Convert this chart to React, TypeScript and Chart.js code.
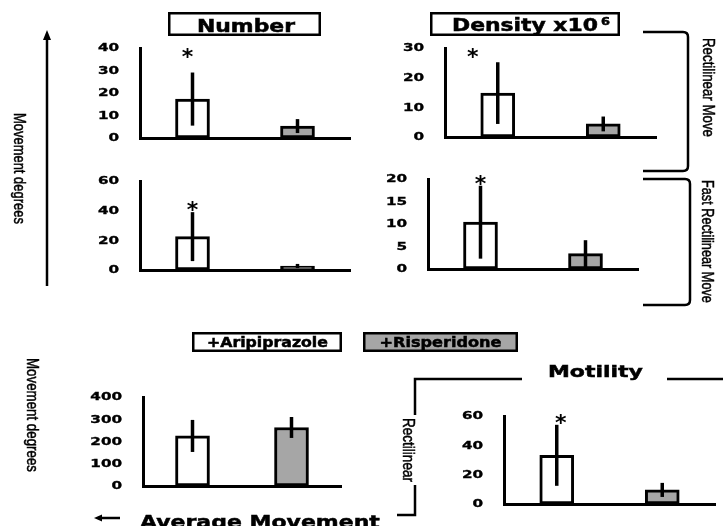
import React, { useEffect, useRef } from 'react';
import { Chart, registerables } from 'chart.js';

Chart.register(...registerables);

// ---------- DATA ----------
const categories = ['+Aripiprazole', '+Risperidone'];

const numberMeans = [17.3, 5.3];
const numberErrors = [11.8, 3.1];
const numberStars: (number | null)[] = [38.2, null];
const numberTicks = [0, 10, 20, 30, 40];

const densityMeans = [14.8, 4.4];
const densityErrors = [10.4, 2.5];
const densityStars: (number | null)[] = [28.5, null];
const densityTicks = [0, 10, 20, 30];

const fastNumberMeans = [22.5, 2.7];
const fastNumberErrors = [16.5, 1.4];
const fastNumberStars: (number | null)[] = [43.8, null];
const fastNumberTicks = [0, 20, 40, 60];

const fastDensityMeans = [10.4, 3.4];
const fastDensityErrors = [8.1, 3.0];
const fastDensityStars: (number | null)[] = [19.8, null];
const fastDensityTicks = [0, 5, 10, 15, 20];

const averageMeans = [225, 263];
const averageErrors = [72, 47];
const averageStars: (number | null)[] = [null, null];
const averageTicks = [0, 100, 200, 300, 400];

const motilityMeans = [33.2, 9.6];
const motilityErrors = [20.8, 4.8];
const motilityStars: (number | null)[] = [58.6, null];
const motilityTicks = [0, 20, 40, 60];

const barColors = ['#ffffff', '#a6a6a6'];

// ---------- PANEL ----------
type PanelProps = {
  means: number[];
  errors: number[];
  stars: (number | null)[];
  ticks: number[];
  axisLeft: number;
  axisRight: number;
  axisTop: number;
  axisBottom: number;
  starDx: number;
};

const YW = 60;
const PT = 14;
const PB = 14;
const PR = 6;

function BarPanel(p: PanelProps) {
  const ref = useRef<HTMLCanvasElement>(null);
  const width = YW + (p.axisRight - p.axisLeft) + PR;
  const height = PT + (p.axisBottom - p.axisTop) + PB;

  useEffect(() => {
    const overlay = {
      id: 'overlay',
      afterDatasetsDraw(chart: any) {
        const ctx = chart.ctx;
        const meta = chart.getDatasetMeta(0);
        const ys = chart.scales.y;
        ctx.save();
        ctx.strokeStyle = '#000';
        ctx.lineWidth = 3.5;
        ctx.lineCap = 'butt';
        meta.data.forEach((bar: any, i: number) => {
          const top = ys.getPixelForValue(p.means[i] + p.errors[i]);
          const bot = ys.getPixelForValue(Math.max(0, p.means[i] - p.errors[i]));
          ctx.beginPath();
          ctx.moveTo(bar.x, top);
          ctx.lineTo(bar.x, bot);
          ctx.stroke();
          const s = p.stars[i];
          if (s !== null && s !== undefined) {
            const sy = ys.getPixelForValue(s);
            ctx.fillStyle = '#000';
            ctx.font = 'bold 22px "DejaVu Sans"';
            ctx.textAlign = 'center';
            ctx.textBaseline = 'alphabetic';
            ctx.fillText('*', bar.x + p.starDx, sy + 11.5);
          }
        });
        ctx.restore();
      },
      afterDraw(chart: any) {
        const ctx = chart.ctx;
        const ys = chart.scales.y;
        ctx.save();
        ctx.fillStyle = '#000';
        ctx.strokeStyle = '#000';
        ctx.lineWidth = 0.35;
        ctx.font = 'bold 11px "DejaVu Sans"';
        ctx.textAlign = 'right';
        ctx.textBaseline = 'middle';
        ys.ticks.forEach((t: any) => {
          const y = ys.getPixelForValue(t.value);
          ctx.save();
          ctx.translate(chart.chartArea.left - 21, y + 0.5);
          ctx.scale(1.38, 1);
          ctx.fillText(String(t.value), 0, 0);
          ctx.strokeText(String(t.value), 0, 0);
          ctx.restore();
        });
        ctx.restore();
      },
    };

    const chart = new Chart(ref.current as HTMLCanvasElement, {
      type: 'bar',
      data: {
        labels: categories,
        datasets: [
          {
            data: p.means,
            backgroundColor: barColors,
            borderColor: '#000',
            borderWidth: 3,
            borderSkipped: false,
            barThickness: 34,
          },
        ],
      },
      options: {
        responsive: false,
        maintainAspectRatio: false,
        animation: false,
        layout: { padding: { top: PT, bottom: PB, left: 0, right: PR } },
        plugins: { legend: { display: false }, tooltip: { enabled: false } },
        scales: {
          x: {
            grid: { display: false, drawTicks: false },
            ticks: { display: false },
            border: { display: true, color: '#000', width: 3 },
            afterFit: (s: any) => {
              s.height = 0;
            },
          },
          y: {
            min: p.ticks[0],
            max: p.ticks[p.ticks.length - 1],
            ticks: { display: false, stepSize: p.ticks[1] - p.ticks[0] },
            grid: { display: false, drawTicks: false },
            border: { display: true, color: '#000', width: 3 },
            afterFit: (s: any) => {
              s.width = YW;
            },
          },
        },
      } as any,
      plugins: [overlay],
    });
    return () => chart.destroy();
  }, []);

  return (
    <canvas
      ref={ref}
      width={width}
      height={height}
      style={{ position: 'absolute', left: p.axisLeft - YW, top: p.axisTop - PT, width, height }}
    />
  );
}

// ---------- ANNOTATIONS ----------
const wide = '"DejaVu Sans"';
const narrow = '"Liberation Sans"';

const measureCtx = document.createElement('canvas').getContext('2d') as CanvasRenderingContext2D;
function textWidth(text: string, font: string): number {
  measureCtx.font = font;
  return measureCtx.measureText(text).width || 1;
}

function WText(props: { x: number; y: number; size: number; len: number; text: string; anchor?: string }) {
  const s = props.len / textWidth(props.text, `bold ${props.size}px ${wide}`);
  return (
    <text
      transform={`translate(${props.x},${props.y}) scale(${s},1)`}
      x={0}
      y={0}
      fontFamily={wide}
      fontWeight="bold"
      fontSize={props.size}
      textAnchor={props.anchor || 'start'}
      fill="#000"
      stroke="#000"
      strokeWidth={0.5}
    >
      {props.text}
    </text>
  );
}

// rotated 90deg clockwise: reads top-to-bottom, letter tops facing right
function VText(props: { baseX: number; y0: number; size: number; len: number; text: string }) {
  const s = props.len / textWidth(props.text, `${props.size}px ${narrow}`);
  return (
    <text
      transform={`translate(${props.baseX},${props.y0}) rotate(90) scale(${s},1)`}
      x={0}
      y={0}
      fontFamily={narrow}
      fontSize={props.size}
      fill="#000"
      stroke="#000"
      strokeWidth={0.5}
    >
      {props.text}
    </text>
  );
}

export default function App() {
  return (
    <div
      style={{
        position: 'absolute',
        left: 0,
        top: 0,
        width: 723,
        height: 526,
        overflow: 'hidden',
        background: '#fff',
      }}
    >
      <BarPanel means={numberMeans} errors={numberErrors} stars={numberStars} ticks={numberTicks}
        axisLeft={140} axisRight={350} axisTop={48} axisBottom={138} starDx={-5} />
      <BarPanel means={densityMeans} errors={densityErrors} stars={densityStars} ticks={densityTicks}
        axisLeft={445} axisRight={656} axisTop={48} axisBottom={137} starDx={-25} />
      <BarPanel means={fastNumberMeans} errors={fastNumberErrors} stars={fastNumberStars} ticks={fastNumberTicks}
        axisLeft={140} axisRight={350} axisTop={181} axisBottom={270} starDx={0} />
      <BarPanel means={fastDensityMeans} errors={fastDensityErrors} stars={fastDensityStars} ticks={fastDensityTicks}
        axisLeft={428} axisRight={638} axisTop={179} axisBottom={269} starDx={0} />
      <BarPanel means={averageMeans} errors={averageErrors} stars={averageStars} ticks={averageTicks}
        axisLeft={143} axisRight={341} axisTop={397} axisBottom={486} starDx={0} />
      <BarPanel means={motilityMeans} errors={motilityErrors} stars={motilityStars} ticks={motilityTicks}
        axisLeft={504} axisRight={715} axisTop={416} axisBottom={504} starDx={4} />

      <svg width={723} height={526} style={{ position: 'absolute', left: 0, top: 0, pointerEvents: 'none' }}>
        {/* arrows and brackets */}
        <g stroke="#000" strokeWidth={2.5} fill="none">
          <line x1={47} y1={38} x2={47} y2={286} />
          <path d="M643,32 H683 Q688,32 688,37 V166 Q688,171 683,171 H643" />
          <path d="M643,179 H685 Q690,179 690,184 V300 Q690,305 685,305 H643" />
          <line x1={101} y1={518} x2={120} y2={518} />
          <path d="M522,379 H415 V515 H397" />
          <line x1={667} y1={379} x2={723} y2={379} />
        </g>
        <polygon points="47,30 43,40 51,40" fill="#000" />
        <polygon points="94,518 102,514.5 102,521.5" fill="#000" />

        {/* title boxes */}
        <rect x={169.25} y={13.25} width={150.5} height={21.5} fill="#fff" stroke="#000" strokeWidth={2.5} />
        <WText x={197} y={32} size={17} len={98} text="Number" />
        <rect x={431.25} y={13.25} width={187.5} height={21.5} fill="#fff" stroke="#000" strokeWidth={2.5} />
        <WText x={452} y={31} size={17} len={146} text="Density x10" />
        <WText x={601} y={25} size={10} len={9} text="6" />

        {/* legend */}
        <rect x={193.25} y={333.25} width={147.5} height={17.5} fill="#fff" stroke="#000" strokeWidth={2.5} />
        <WText x={267.5} y={347} size={14} len={121} text={categories[0]} anchor="middle" />
        <rect x={364.25} y={333.25} width={152.5} height={17.5} fill="#a6a6a6" stroke="#000" strokeWidth={2.5} />
        <WText x={440.5} y={347} size={14} len={122} text={categories[1]} anchor="middle" />

        {/* rotated labels */}
        <VText baseX={14} y0={113} size={16} len={111} text="Movement degrees" />
        <VText baseX={703} y0={38} size={17} len={99} text="Rectilinear Move" />
        <VText baseX={702} y0={180} size={17} len={123} text="Fast Rectilinear Move" />
        <VText baseX={27} y0={358} size={17} len={114} text="Movement degrees" />

        {/* motility */}
        <WText x={548} y={377} size={16} len={95} text="Motility" />
        <rect x={398} y={415} width={26} height={70} fill="#fff" />
        <VText baseX={403} y0={418} size={17} len={64} text="Rectilinear" />

        {/* bottom label */}
        <WText x={140} y={528} size={18} len={240} text="Average Movement" />
      </svg>
    </div>
  );
}
